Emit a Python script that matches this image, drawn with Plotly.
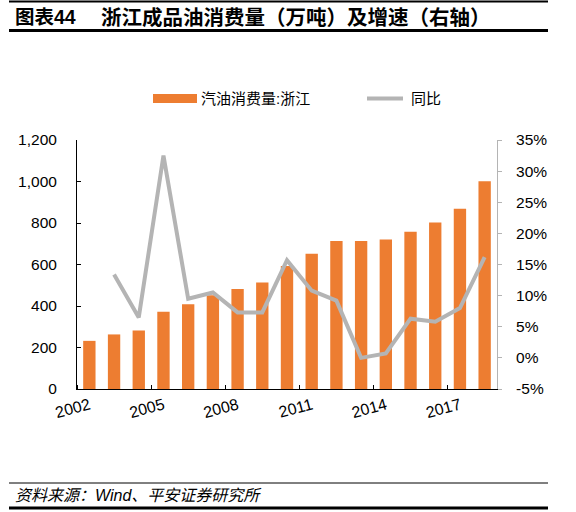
import plotly.graph_objects as go

# data
years = list(range(2002, 2019))
gasoline = [232, 263, 282, 372, 409, 452, 482, 513, 593, 652,
            713, 713, 721, 758, 803, 869, 1001]
yoy_years = list(range(2003, 2019))
yoy = [0.134, 0.065, 0.325, 0.095, 0.105, 0.073, 0.073, 0.157,
       0.108, 0.092, 0.000, 0.007, 0.063, 0.058, 0.080, 0.162]
left_ticks = [0, 200, 400, 600, 800, 1000, 1200]
right_ticks = [-0.05, 0, 0.05, 0.10, 0.15, 0.20, 0.25, 0.30, 0.35]
right_labels = ["-5%", "0%", "5%", "10%", "15%", "20%", "25%", "30%", "35%"]
label_years = years[::3]

ORANGE = "#ED7D31"
GREY = "#B4B4B4"
FONT = "Liberation Sans, Arial, Noto Sans CJK SC, sans-serif"

# plot area in pixels
L, R, T, B = 77, 497, 140, 389


def px(x):
    return (x - L) / (R - L)


def py(y):
    return (B - y) / (B - T)


fig = go.Figure()
fig.add_trace(go.Bar(
    x=years, y=gasoline, name="汽油消费量:浙江",
    marker=dict(color=ORANGE, line=dict(width=0)),
    width=0.5, showlegend=False,
))
fig.add_trace(go.Scatter(
    x=yoy_years, y=yoy, name="同比", mode="lines", yaxis="y2",
    line=dict(color=GREY, width=4), showlegend=False,
))

fig.update_layout(
    width=576, height=512,
    margin=dict(l=L, r=576 - R, t=T, b=512 - B),
    paper_bgcolor="white", plot_bgcolor="white",
    font=dict(family=FONT, size=15, color="black"),
    xaxis=dict(
        range=[2001.5, 2018.5], tickvals=label_years,
        ticktext=[str(y) for y in label_years], tickangle=-15,
        ticks="", showline=True, linecolor="black", linewidth=1,
        showgrid=False, zeroline=False, tickfont=dict(size=16),
        minor=dict(tick0=2001.5, dtick=3, ticks="inside", ticklen=4,
                   tickcolor="black", showgrid=False),
    ),
    yaxis=dict(
        range=[0, 1200], tickvals=left_ticks, tickformat=",",
        ticks="inside", ticklen=4, tickcolor="black",
        showline=True, linecolor="black", linewidth=1,
        showgrid=False, zeroline=False, ticklabelstandoff=16,
        tickfont=dict(size=15.5),
    ),
    yaxis2=dict(
        range=[-0.05, 0.35], overlaying="y", side="right",
        tickvals=right_ticks, ticktext=right_labels,
        ticks="outside", ticklen=4, tickcolor=GREY,
        showline=True, linecolor=GREY, linewidth=1,
        showgrid=False, zeroline=False, ticklabelstandoff=11,
        tickfont=dict(size=15.5),
    ),
)

# title, footer and rules
fig.add_annotation(
    x=px(13), y=py(17), xref="paper", yref="paper",
    xanchor="left", yanchor="middle", showarrow=False,
    text="<b>图表44</b>", font=dict(size=19.5, color="black"),
)
fig.add_annotation(
    x=px(99), y=py(17), xref="paper", yref="paper",
    xanchor="left", yanchor="middle", showarrow=False,
    text="<b>浙江成品油消费量（万吨）及增速（右轴）</b>",
    font=dict(size=20.5, color="black"),
)
fig.add_annotation(
    x=px(13), y=py(495), xref="paper", yref="paper",
    xanchor="left", yanchor="middle", showarrow=False,
    text="<i>资料来源：Wind、平安证券研究所</i>",
    font=dict(size=16, color="black"),
)
for y, w in [(1.5, 2), (30.5, 3), (483, 1), (508, 3)]:
    fig.add_shape(type="line", xref="paper", yref="paper",
                  x0=px(9), x1=px(548), y0=py(y), y1=py(y),
                  line=dict(color="black", width=w))

# legend
fig.add_shape(type="rect", xref="paper", yref="paper",
              x0=px(153), x1=px(197), y0=py(94), y1=py(103),
              fillcolor=ORANGE, line=dict(width=0))
fig.add_annotation(x=px(199), y=py(98.5), xref="paper", yref="paper",
                   xanchor="left", yanchor="middle", showarrow=False,
                   text="汽油消费量:浙江", font=dict(size=15))
fig.add_shape(type="line", xref="paper", yref="paper",
              x0=px(367), x1=px(403), y0=py(98.5), y1=py(98.5),
              line=dict(color=GREY, width=4))
fig.add_annotation(x=px(409), y=py(98.5), xref="paper", yref="paper",
                   xanchor="left", yanchor="middle", showarrow=False,
                   text="同比", font=dict(size=15))

# drop the browser's default body margin so the figure sits at (0, 0)
fig.write_html("out.html", config={"displayModeBar": False},
               post_script="document.body.style.margin = '0';")
